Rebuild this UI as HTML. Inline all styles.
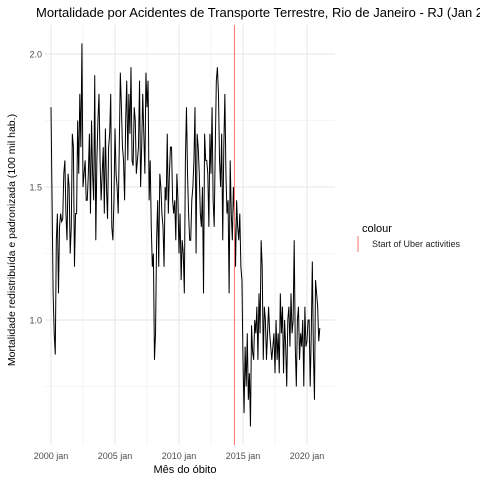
<!DOCTYPE html>
<html><head><meta charset="utf-8"><style>
body{margin:0;background:#fff;}
svg{display:block;font-family:"Liberation Sans",sans-serif;}
</style></head><body>
<svg id="chart" width="480" height="480">
<rect width="480" height="480" fill="#fff"/>
<g id="grid"></g>
<g id="marks"></g>
<g id="axes"></g>
<text x="36" y="17" font-size="13" fill="#000">Mortalidade por Acidentes de Transporte Terrestre, Rio de Janeiro - RJ (Jan 2000 - Jan 2021)</text>
<text transform="translate(15,240) rotate(-90)" text-anchor="middle" font-size="10.5">Mortalidade redistribuída e padronizada (100 mil hab.)</text>
<text x="185" y="473" text-anchor="middle" font-size="11">Mês do óbito</text>
<g>
<text x="362" y="232" font-size="11">colour</text>
<line x1="358" y1="236" x2="358" y2="252" stroke="#F8766D" stroke-width="1"/>
<text x="372" y="247" font-size="9" fill="#222">Start of Uber activities</text>
</g>
</svg>
<script>
const startYear = 2000;
const values = [
1.80,1.45,1.10,0.95,0.87,1.30,1.40,1.10,1.35,1.40,1.37,1.38,
1.55,1.60,1.40,1.30,1.55,1.50,1.25,1.35,1.70,1.65,1.20,1.40,
1.40,1.75,1.55,1.85,1.65,2.04,1.50,1.55,1.60,1.45,1.45,1.55,
1.70,1.40,1.75,1.55,1.45,1.92,1.30,1.60,1.75,1.85,1.60,1.45,
1.55,1.65,1.40,1.72,1.50,1.38,1.65,1.70,1.85,1.35,1.30,1.45,
1.72,1.55,1.50,1.40,1.65,1.93,1.80,1.65,1.60,1.45,1.75,1.90,
1.60,1.85,1.70,1.95,1.60,1.58,1.80,1.75,1.55,1.60,1.65,1.90,
1.50,1.65,1.85,1.70,1.55,1.93,1.80,1.90,1.45,1.60,1.35,1.20,
1.25,0.85,0.95,1.30,1.45,1.20,1.55,1.50,1.40,1.35,1.20,1.50,
1.45,1.70,1.40,1.55,1.65,1.65,1.45,1.40,1.45,1.30,1.55,1.45,
1.25,1.40,1.15,1.30,1.25,1.10,1.60,1.80,1.55,1.40,1.30,1.30,
1.45,1.50,1.60,1.80,1.25,1.70,1.65,1.55,1.40,1.35,1.50,1.10,
1.70,1.60,1.60,1.55,1.35,1.70,1.55,1.80,1.45,1.35,1.65,1.90,
1.95,1.85,1.60,1.50,1.70,1.30,1.65,1.85,1.55,1.40,1.45,1.10,
1.60,1.40,1.30,1.50,1.40,1.20,1.45,1.35,1.30,1.40,1.20,1.15,
0.85,0.65,0.90,0.75,0.95,0.70,0.80,0.60,0.98,0.88,0.85,1.00,
0.95,1.05,0.85,1.10,0.95,1.30,1.20,0.85,1.05,1.00,0.85,0.95,
1.05,0.95,0.90,0.85,0.90,0.95,0.80,1.00,0.85,0.95,0.80,1.10,
0.95,1.05,0.80,1.00,0.90,0.75,1.00,1.05,0.90,1.10,0.95,1.00,
1.30,0.90,0.75,1.00,1.05,0.85,0.95,0.90,1.00,0.75,1.05,0.90,
0.92,1.00,1.00,0.75,0.95,1.22,0.88,0.70,1.15,1.10,1.05,0.92,
0.97
];
const yTicks = [1.0, 1.5, 2.0];
const yMinor = [0.75, 1.25, 1.75];
const xTickYears = [2000, 2005, 2010, 2015, 2020];
const xTickLabels = ["2000 jan","2005 jan","2010 jan","2015 jan","2020 jan"];
const xMinorYears = [2002.5, 2007.5, 2012.5, 2017.5];
const uberDate = 2014 + 4/12;

const P = {l:45, r:335, t:25, b:445};
function xs(t){ return 51 + (t - 2000) * 12.8; }
function ys(v){ return 320 - (v - 1.0) * 266; }
const NS = "http://www.w3.org/2000/svg";
const grid = document.getElementById('grid');
const marks = document.getElementById('marks');
const axes = document.getElementById('axes');
function mk(tag, attrs, parent){ const e = document.createElementNS(NS, tag); for (const k in attrs) e.setAttribute(k, attrs[k]); parent.appendChild(e); return e; }

yMinor.forEach(v => {
  const l = mk('line', {x1:P.l, x2:P.r, y1:ys(v), y2:ys(v), stroke:'#ebebeb', 'stroke-width':0.6}, grid);
  
  
});
xMinorYears.forEach(t => {
  const l = mk('line', {x1:xs(t), x2:xs(t), y1:P.t, y2:P.b, stroke:'#ebebeb', 'stroke-width':0.6}, grid);
  
  
});
yTicks.forEach(v => {
  const l = mk('line', {x1:P.l, x2:P.r, y1:ys(v), y2:ys(v), stroke:'#e6e6e6', 'stroke-width':1}, grid);
  
  
  const t = mk('text', {x:P.l - 3, y:ys(v) + 3.5, 'text-anchor':'end', 'font-size':9, fill:'#4d4d4d'}, axes);
  t.textContent = v.toFixed(1);
  
  
});
xTickYears.forEach((yr, i) => {
  const l = mk('line', {x1:xs(yr), x2:xs(yr), y1:P.t, y2:P.b, stroke:'#e6e6e6', 'stroke-width':1}, grid);
  
  
  const t = mk('text', {x:xs(yr), y:459, 'text-anchor':'middle', 'font-size':9, fill:'#4d4d4d'}, axes);
  t.textContent = xTickLabels[i];
  
  
});

const pts = values.map((v, i) => xs(startYear + i / 12).toFixed(2) + ',' + ys(v).toFixed(2)).join(' ');
const line = mk('polyline', {points:pts, fill:'none', stroke:'#000', 'stroke-width':1}, marks);



const u = mk('line', {x1:xs(uberDate), x2:xs(uberDate), y1:P.t, y2:P.b, stroke:'#F8766D', 'stroke-width':1}, marks);


</script>
</body></html>
